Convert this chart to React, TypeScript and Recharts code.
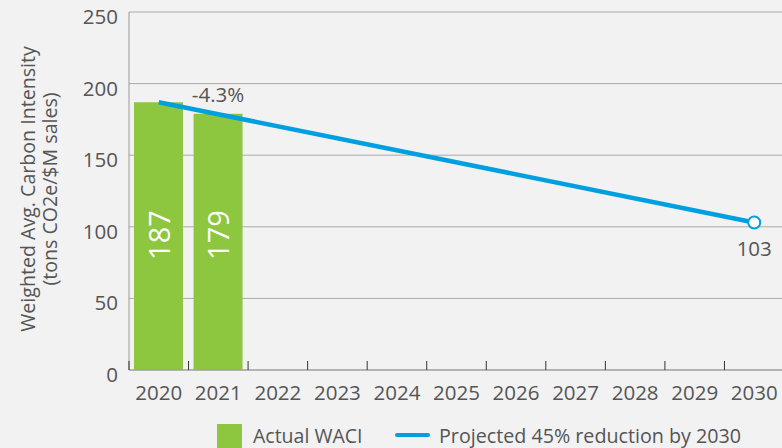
import React from 'react';
import { ComposedChart, Bar, Line, XAxis, YAxis, CartesianGrid, Legend, LabelList } from 'recharts';

const years = ['2020', '2021', '2022', '2023', '2024', '2025', '2026', '2027', '2028', '2029', '2030'];
const actualWaci: (number | null)[] = [187, 179, null, null, null, null, null, null, null, null, null];
const projectedWaci: (number | null)[] = [187, null, null, null, null, null, null, null, null, null, 103];
const changeLabels = ['', '-4.3%', '', '', '', '', '', '', '', '', ''];
const yTicks = [0, 50, 100, 150, 200, 250];

const data = years.map((year, i) => ({
  year,
  actual: actualWaci[i],
  projected: projectedWaci[i],
  change: changeLabels[i],
}));

const CHART_W = 786;
const CHART_H = 448;
const Y_W = 129;
const M_RIGHT = 2;
const M_TOP = 12;
const X_H = 78;
const HALF_BAND = (CHART_W - Y_W - M_RIGHT) / years.length / 2;

const GREEN = '#8dc63f';
const BLUE = '#00a0e0';
const TEXT = '#555555';
const FONT = '"Open Sans", Roboto, "DejaVu Sans", sans-serif';

const XTick = (props: any) => {
  const { x, y, payload } = props;
  return (
    <g>
      <line x1={x - HALF_BAND} x2={x - HALF_BAND} y1={y - 9} y2={y} stroke="#333" strokeWidth={1} />
      <text x={x} y={y + 30} textAnchor="middle" fill={TEXT} fontSize={20.5}>
        {payload.value}
      </text>
    </g>
  );
};

const YTick = (props: any) => {
  const { x, y, payload } = props;
  return (
    <text x={x} y={y + 12} textAnchor="end" fill={TEXT} fontSize={20.5}>
      {payload.value}
    </text>
  );
};

const YLabel = (props: any) => {
  const vb = props.viewBox || {};
  const cy = (vb.y ?? M_TOP) + (vb.height ?? 358) / 2 - 2;
  return (
    <text transform={`rotate(-90 0 ${cy})`} x={0} y={cy} textAnchor="middle" fill={TEXT} fontSize={19.6}>
      <tspan x={0} y={cy + 35}>Weighted Avg. Carbon Intensity</tspan>
      <tspan x={0} y={cy + 57}>(tons CO2e/$M sales)</tspan>
    </text>
  );
};

const BarValueLabel = (props: any) => {
  const { x, y, width, height, value } = props;
  if (value == null) return null;
  const cx = x + width / 2;
  const cy = y + height - 135;
  return (
    <text
      transform={`rotate(-90 ${cx} ${cy})`}
      x={cx}
      y={cy + 11}
      textAnchor="middle"
      fill="#ffffff"
      fontSize={29}
    >
      {value}
    </text>
  );
};

const ChangeLabel = (props: any) => {
  const { x, y, width, value } = props;
  if (!value) return null;
  return (
    <text x={x + width / 2} y={y - 12} textAnchor="middle" fill={TEXT} fontSize={20.5}>
      {value}
    </text>
  );
};

const EndLabel = (props: any) => {
  const { x, y, value, index } = props;
  if (value == null || index !== years.length - 1) return null;
  return (
    <text x={x} y={y + 33} textAnchor="middle" fill={TEXT} fontSize={20.5}>
      {value}
    </text>
  );
};

const EndDot = (props: any) => {
  const { cx, cy, index } = props;
  if (index !== years.length - 1 || cy == null) return <g key={`d${index}`} />;
  return <circle key={`d${index}`} cx={cx} cy={cy} r={6} fill="#ffffff" stroke={BLUE} strokeWidth={2} />;
};

const LegendContent = () => (
  <svg width={782} height={26} style={{ display: 'block' }}>
    <rect x={217} y={2} width={25} height={24} fill={GREEN} />
    <text x={253} y={21} fill={TEXT} fontSize={19.5} fontFamily={FONT}>
      Actual WACI
    </text>
    <line x1={397} x2={428} y1={13} y2={13} stroke={BLUE} strokeWidth={4} strokeLinecap="round" />
    <text x={439} y={21} fill={TEXT} fontSize={19.7} fontFamily={FONT}>
      Projected 45% reduction by 2030
    </text>
  </svg>
);

export default function App() {
  return (
    <div
      style={{
        position: 'absolute',
        left: 0,
        top: 0,
        width: 782,
        height: 448,
        overflow: 'hidden',
        background: '#f2f2f2',
        fontFamily: FONT,
      }}
    >
      <ComposedChart
        width={CHART_W}
        height={CHART_H}
        data={data}
        margin={{ top: M_TOP, right: M_RIGHT, left: 0, bottom: 0 }}
        barSize={49}
        style={{ fontFamily: FONT }}
      >
        <CartesianGrid vertical={false} stroke="#aaaaaa" strokeWidth={1} />
        <XAxis
          dataKey="year"
          height={X_H}
          axisLine={{ stroke: '#999999' }}
          tickLine={false}
          tickSize={0}
          tickMargin={0}
          tick={<XTick />}
          interval={0}
        />
        <YAxis
          width={Y_W}
          domain={[0, 250]}
          ticks={yTicks}
          axisLine={{ stroke: '#999999' }}
          tickLine={false}
          tickSize={0}
          tickMargin={11}
          tick={<YTick />}
          label={<YLabel />}
        />
        <Legend
          verticalAlign="middle"
          align="center"
          layout="horizontal"
          wrapperStyle={{ top: 422, left: 0, width: 782, height: 26 }}
          content={<LegendContent />}
        />
        <Bar dataKey="actual" fill={GREEN} isAnimationActive={false}>
          <LabelList dataKey="actual" content={<BarValueLabel />} />
          <LabelList dataKey="change" content={<ChangeLabel />} />
        </Bar>
        <Line
          dataKey="projected"
          stroke={BLUE}
          strokeWidth={4.5}
          connectNulls
          dot={EndDot}
          activeDot={false}
          isAnimationActive={false}
        >
          <LabelList dataKey="projected" content={<EndLabel />} />
        </Line>
      </ComposedChart>
    </div>
  );
}
